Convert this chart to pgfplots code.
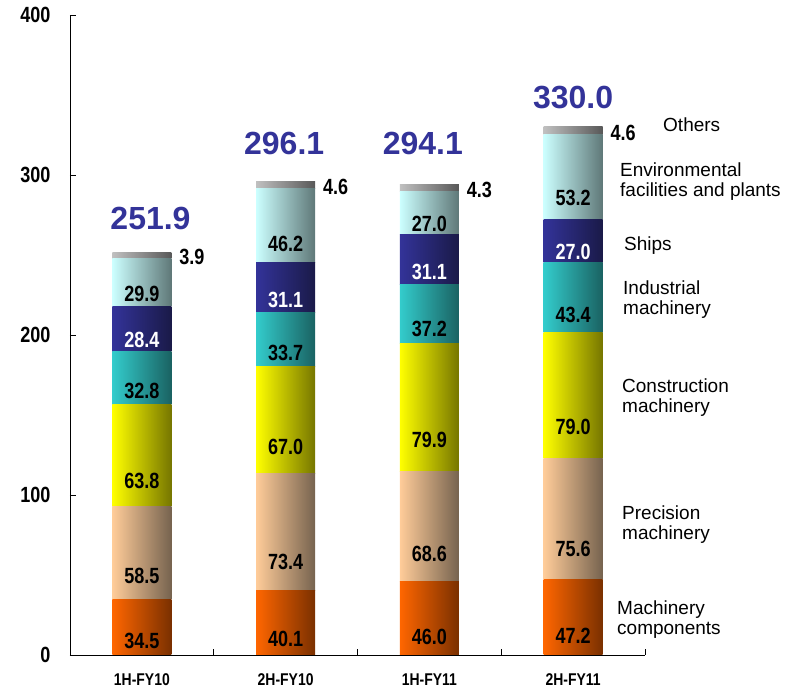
\documentclass[border=0pt]{standalone}
\usepackage{pgfplots}
\pgfplotsset{compat=1.18}
\usepackage{pgfplotstable}
\usepackage{fontspec}
\setmainfont{Liberation Sans}
\newfontfamily\narrowbold{Liberation Sans Bold}[FakeStretch=0.82]

\definecolor{mcL}{HTML}{FF6600}\definecolor{mcR}{HTML}{7A3000}
\definecolor{pmL}{HTML}{FFCC99}\definecolor{pmR}{HTML}{76634F}
\definecolor{cmL}{HTML}{FFFF00}\definecolor{cmR}{HTML}{767600}
\definecolor{imL}{HTML}{33CCCC}\definecolor{imR}{HTML}{1A6262}
\definecolor{shL}{HTML}{333399}\definecolor{shR}{HTML}{1A1A48}
\definecolor{envL}{HTML}{CCFFFF}\definecolor{envR}{HTML}{5F7878}
\definecolor{othL}{HTML}{C0C0C0}\definecolor{othR}{HTML}{585858}
\definecolor{totblue}{HTML}{333399}

% sales by segment, one table per half-year (one bar each, so the shading is per bar)
\pgfplotstableread{
x mc pm cm im sh env oth
0 34.5 58.5 63.8 32.8 28.4 29.9 3.9
}\catA
\pgfplotstableread{
x mc pm cm im sh env oth
1 40.1 73.4 67.0 33.7 31.1 46.2 4.6
}\catB
\pgfplotstableread{
x mc pm cm im sh env oth
2 46.0 68.6 79.9 37.2 31.1 27.0 4.3
}\catC
\pgfplotstableread{
x mc pm cm im sh env oth
3 47.2 75.6 79.0 43.4 27.0 53.2 4.6
}\catD

\tikzset{
  valfont/.style={font=\narrowbold\fontsize{22}{22}\selectfont},
  lab/.style={anchor=west, inner sep=0pt, align=left,
    font=\fontsize{19}{20}\selectfont},
  tot/.style={text=totblue, font=\bfseries\fontsize{32}{32}\selectfont, inner sep=0pt},
}
% 1 unit = 1.6pt; the appended node style ends up applied twice, hence 0.4
\pgfplotsset{
  base/.style={scale only axis, width=575pt, height=640pt,
    xmin=-0.5, xmax=3.5, ymin=0, ymax=400,
    ybar stacked, bar width=59pt, clip=false},
  seg/.style 2 args={draw=none, left color=#1, right color=#2,
    point meta=explicit symbolic,
    nodes near coords={\pgfplotspointmeta},
    every node near coord/.append style={valfont, anchor=center, yshift={-0.4*\pgfplotspointmeta}}},
}
\newcommand\catbars[1]{%
\addplot[seg={mcL}{mcR}] table[x=x,y=mc,meta=mc]{#1};
\addplot[seg={pmL}{pmR}] table[x=x,y=pm,meta=pm]{#1};
\addplot[seg={cmL}{cmR}] table[x=x,y=cm,meta=cm]{#1};
\addplot[seg={imL}{imR}] table[x=x,y=im,meta=im]{#1};
\addplot[seg={shL}{shR}, every node near coord/.append style={text=white}] table[x=x,y=sh,meta=sh]{#1};
\addplot[seg={envL}{envR}] table[x=x,y=env,meta=env]{#1};
\addplot[seg={othL}{othR},
  every node near coord/.append style={anchor=west, yshift={0.4*\pgfplotspointmeta-2}, xshift=34pt}] table[x=x,y=oth,meta=oth]{#1};
}

\begin{document}
\begin{tikzpicture}
\begin{axis}[
  base, name=ax,
  axis x line*=bottom, axis y line*=left,
  axis line style={-, black, line width=0.9pt},
  tick align=inside, major tick length=6pt,
  tick style={black, line width=0.9pt},
  ytick={0,100,...,400},
  xtick={0.5,1.5,2.5,3.5}, xticklabels={},
  extra x ticks={0,1,2,3},
  extra x tick labels={1H-FY10,2H-FY10,1H-FY11,2H-FY11},
  extra x tick style={major tick length=0pt},
  /pgf/number format/assume math mode=true,
  yticklabel style={font=\narrowbold\fontsize{22}{22}\selectfont, xshift=-16pt},
  xticklabel style={font=\narrowbold\fontsize{17}{17}\selectfont, yshift=-15pt},
]
\catbars{\catA}

% totals
\node[tot] at (axis cs:0.06,273.1) {251.9};
\node[tot] at (axis cs:0.99,319.4) {296.1};
\node[tot] at (axis cs:1.955,319.4) {294.1};
\node[tot] at (axis cs:3.0,348.4) {330.0};

% segment names
\node[lab, xshift=18pt] at (axis cs:3.5,331.2) {Others};
\node[lab, xshift=-25pt] at (axis cs:3.5,295.6) {Environmental\\facilities and plants};
\node[lab, xshift=-21pt] at (axis cs:3.5,255.6) {Ships};
\node[lab, xshift=-22pt] at (axis cs:3.5,221.9) {Industrial\\machinery};
\node[lab, xshift=-23pt] at (axis cs:3.5,160.6) {Construction\\machinery};
\node[lab, xshift=-23pt] at (axis cs:3.5,81.2) {Precision\\machinery};
\node[lab, xshift=-28pt] at (axis cs:3.5,21.9) {Machinery\\components};
\end{axis}
\begin{axis}[base, hide axis]
\catbars{\catB}
\end{axis}
\begin{axis}[base, hide axis]
\catbars{\catC}
\end{axis}
\begin{axis}[base, hide axis]
\catbars{\catD}
\end{axis}
\pgfresetboundingbox
\path[use as bounding box] ([shift={(-70pt,-38pt)}]ax.south west) rectangle ([shift={(151pt,15pt)}]ax.north east);
\end{tikzpicture}
\end{document}
